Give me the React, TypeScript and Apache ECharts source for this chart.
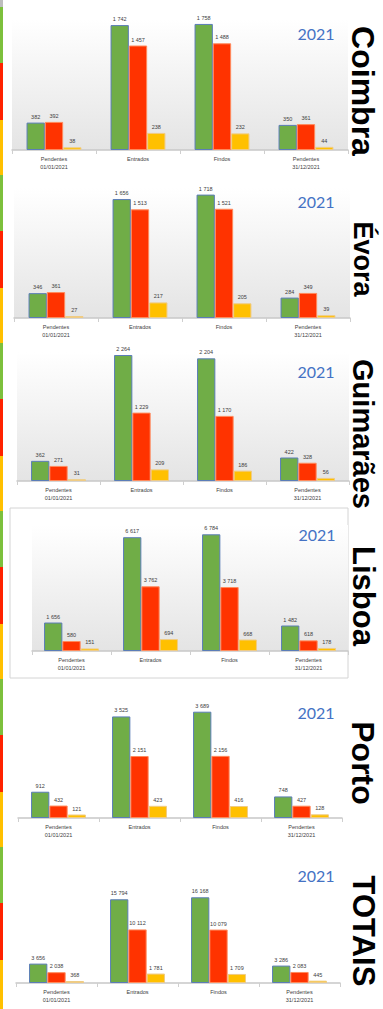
import React, { useEffect, useRef } from "react";
import * as echarts from "echarts";

const categories = ["Pendentes\n01/01/2021", "Entrados", "Findos", "Pendentes\n31/12/2021"];
const yearLabel = "2021";
const panelNames = ["Coimbra", "Évora", "Guimarães", "Lisboa", "Porto", "TOTAIS"];

const coimbraVerde = [382, 1742, 1758, 350];
const coimbraVermelho = [392, 1457, 1488, 361];
const coimbraAmarelo = [38, 238, 232, 44];

const evoraVerde = [346, 1656, 1718, 284];
const evoraVermelho = [361, 1513, 1521, 349];
const evoraAmarelo = [27, 217, 205, 39];

const guimaraesVerde = [362, 2264, 2204, 422];
const guimaraesVermelho = [271, 1229, 1170, 328];
const guimaraesAmarelo = [31, 209, 186, 56];

const lisboaVerde = [1656, 6617, 6784, 1482];
const lisboaVermelho = [580, 3762, 3718, 618];
const lisboaAmarelo = [151, 694, 668, 178];

const portoVerde = [912, 3525, 3689, 748];
const portoVermelho = [432, 2151, 2156, 427];
const portoAmarelo = [121, 423, 416, 128];

const totaisVerde = [3656, 15794, 16168, 3286];
const totaisVermelho = [2038, 10112, 10079, 2083];
const totaisAmarelo = [368, 1781, 1709, 445];

const panelSeries = [
  [coimbraVerde, coimbraVermelho, coimbraAmarelo],
  [evoraVerde, evoraVermelho, evoraAmarelo],
  [guimaraesVerde, guimaraesVermelho, guimaraesAmarelo],
  [lisboaVerde, lisboaVermelho, lisboaAmarelo],
  [portoVerde, portoVermelho, portoAmarelo],
  [totaisVerde, totaisVermelho, totaisAmarelo],
];

// layout (px)
const gridLayout = [
  { left: 12, right: 35, top: 20, bottom: 150, max: 1813, bg: true },
  { left: 14, right: 33, top: 188, bottom: 318, max: 1810, bg: true },
  { left: 17, right: 34, top: 352, bottom: 481, max: 2318, bg: true },
  { left: 32, right: 35, top: 525, bottom: 651, max: 7326, bg: true },
  { left: 18, right: 41, top: 690, bottom: 818, max: 4442, bg: false },
  { left: 16, right: 43, top: 860, bottom: 983, max: 23206, bg: false },
];
const yearPos = [
  [316, 33], [316, 201], [316, 371], [317, 534], [316, 712], [316, 875],
];
const titleLayout = [
  { y: 91, size: 32 },
  { y: 259, size: 27 },
  { y: 434, size: 29 },
  { y: 596, size: 31 },
  { y: 763, size: 32 },
  { y: 931, size: 31 },
];

const barColors = ["#70AD47", "#FF3300", "#FFC000"];
const barBorders = ["#5B7DB8", "#FF8A5C", "#EFCB85"];
const stripColors = ["#7CC03C", "#FF2200", "#FFC000"];

const fmt = (v: number) => String(v).replace(/\B(?=(\d{3})+(?!\d))/g, " ");

export default function App() {
  const ref = useRef<HTMLDivElement>(null);
  useEffect(() => {
    if (!ref.current) return;
    const chart = echarts.init(ref.current, null, { renderer: "svg" });
    const grids: any[] = [];
    const xAxes: any[] = [];
    const yAxes: any[] = [];
    const series: any[] = [];
    const graphics: any[] = [];

    // Lisboa box
    graphics.push({
      type: "rect",
      z: -1,
      shape: { x: 10, y: 508, width: 338, height: 170 },
      style: { fill: "#ffffff", stroke: "#d4d4d4", lineWidth: 1 },
    });

    // left strip
    graphics.push({
      type: "rect",
      shape: { x: 0, y: 0, width: 3, height: 7 },
      style: { fill: "#bdbdbd" },
    });
    for (let k = 0; k < 6; k++) {
      const base = 7 + 168 * k;
      const segs = [0, 56, 113, 168];
      for (let s = 0; s < 3; s++) {
        graphics.push({
          type: "rect",
          shape: { x: 0, y: base + segs[s], width: 3, height: segs[s + 1] - segs[s] },
          style: { fill: stripColors[s] },
        });
      }
    }

    gridLayout.forEach((g, i) => {
      grids.push({
        left: g.left,
        right: g.right,
        top: g.top,
        height: g.bottom - g.top,
        show: g.bg,
        borderWidth: 0,
        backgroundColor: g.bg
          ? new echarts.graphic.LinearGradient(0, 0, 0, 1, [
              { offset: 0, color: "#ffffff" },
              { offset: 1, color: "#e4e4e4" },
            ])
          : "transparent",
      });
      xAxes.push({
        type: "category",
        gridIndex: i,
        data: categories,
        axisLine: { lineStyle: { color: "#c8c8c8", width: 1.5 } },
        axisTick: { show: true, length: 4, lineStyle: { color: "#cfcfcf" } },
        axisLabel: {
          interval: 0,
          fontSize: 5.5,
          lineHeight: 8,
          margin: 5,
          color: "#404040",
          fontFamily: "Liberation Sans",
        },
      });
      yAxes.push({
        type: "value",
        gridIndex: i,
        min: 0,
        max: g.max,
        show: false,
        splitLine: { show: false },
      });
      panelSeries[i].forEach((data, s) => {
        series.push({
          type: "bar",
          xAxisIndex: i,
          yAxisIndex: i,
          data,
          barWidth: 18.3,
          barGap: "0%",
          itemStyle: { color: barColors[s], borderColor: barBorders[s], borderWidth: 1 },
          label: {
            show: true,
            position: "top",
            distance: 3,
            fontSize: 5.5,
            color: "#404040",
            fontFamily: "Liberation Sans",
            formatter: (p: any) => fmt(p.value),
          },
        });
      });
      graphics.push({
        type: "text",
        x: yearPos[i][0],
        y: yearPos[i][1],
        style: {
          text: yearLabel,
          fontSize: 16,
          fill: "#4472C4",
          fontFamily: "Lato",
          align: "center",
          verticalAlign: "middle",
        },
      });
      graphics.push({
        type: "text",
        x: 363,
        y: titleLayout[i].y,
        rotation: -Math.PI / 2,
        style: {
          text: panelNames[i],
          fontSize: titleLayout[i].size,
          fontWeight: "bold",
          fill: "#000000",
          fontFamily: "Liberation Sans",
          align: "center",
          verticalAlign: "middle",
        },
      });
    });

    chart.setOption({
      animation: false,
      backgroundColor: "#ffffff",
      grid: grids,
      xAxis: xAxes,
      yAxis: yAxes,
      series,
      graphic: graphics,
    });
    return () => chart.dispose();
  }, []);
  return (
    <div
      ref={ref}
      style={{ position: "absolute", left: 0, top: 0, width: 383, height: 1009 }}
    />
  );
}
